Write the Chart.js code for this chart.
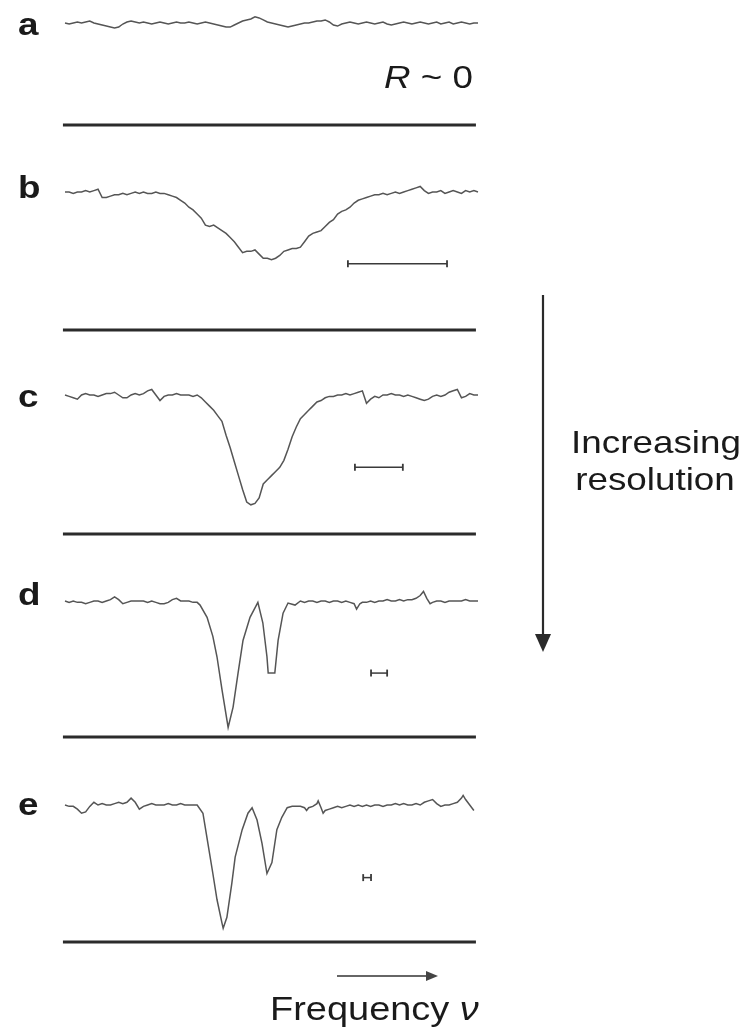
<!DOCTYPE html>
<html>
<head>
<meta charset="utf-8">
<style>
  html, body { margin: 0; padding: 0; background: #fff; }
  #wrap { position: relative; width: 747px; height: 1031px; }
</style>
</head>
<body>
<div id="wrap"><canvas id="myChart" width="747" height="1031"></canvas></div>
<script src="https://cdn.jsdelivr.net/npm/chart.js@4.4.0/dist/chart.umd.min.js"></script>
<script>
// Datos (frecuencia 0-100, señal 1 = nivel sin absorción, 0 = línea de cero)
const panelNames = ["a", "b", "c", "d", "e"];
const freqGrid = Array.from({ length: 101 }, (_, i) => i); // muestreo uniforme de a, b, c

const sigA = [
  1.00, 0.99, 1.00, 1.01, 1.00, 1.01, 1.02, 1.00, 0.99, 0.98,
  0.97, 0.96, 0.95, 0.96, 0.99, 1.01, 1.02, 1.01, 1.00, 1.01,
  1.00, 0.99, 1.00, 1.01, 1.00, 0.99, 1.00, 1.01, 1.00, 1.00,
  1.01, 1.00, 0.99, 1.00, 1.01, 1.00, 0.99, 0.98, 0.97, 0.96,
  0.96, 0.98, 1.00, 1.02, 1.03, 1.04, 1.06, 1.05, 1.03, 1.01,
  1.00, 0.99, 0.98, 0.97, 0.96, 0.97, 0.98, 0.99, 1.00, 1.00,
  1.01, 1.02, 1.02, 1.03, 1.01, 0.98, 0.97, 0.99, 1.00, 1.01,
  1.00, 0.99, 1.00, 1.01, 1.00, 0.99, 1.00, 1.01, 0.99, 0.98,
  0.99, 1.00, 1.01, 1.00, 0.99, 1.00, 1.01, 1.00, 0.99, 1.00,
  1.01, 0.99, 1.00, 1.01, 0.99, 1.00, 1.01, 1.00, 0.99, 1.00,
  1.00
];

const sigB = [
  1.00, 1.00, 0.99, 1.00, 1.00, 1.01, 1.00, 1.01, 1.02, 0.96,
  0.96, 0.97, 0.98, 0.98, 0.99, 0.98, 0.99, 1.00, 0.99, 1.00,
  0.99, 0.99, 1.00, 0.99, 0.99, 0.98, 0.97, 0.96, 0.94, 0.92,
  0.89, 0.87, 0.84, 0.81, 0.76, 0.75, 0.76, 0.74, 0.72, 0.70,
  0.67, 0.64, 0.60, 0.56, 0.57, 0.57, 0.58, 0.55, 0.52, 0.52,
  0.51, 0.52, 0.54, 0.57, 0.58, 0.59, 0.59, 0.60, 0.64, 0.68,
  0.70, 0.71, 0.72, 0.75, 0.78, 0.80, 0.84, 0.86, 0.87, 0.89,
  0.92, 0.94, 0.95, 0.96, 0.97, 0.98, 0.98, 0.99, 0.98, 0.99,
  1.00, 0.99, 1.00, 1.01, 1.02, 1.03, 1.04, 1.01, 0.99, 1.00,
  1.00, 1.01, 0.99, 1.00, 1.01, 1.00, 0.99, 1.01, 1.00, 1.01,
  1.00
];

const sigC = [
  1.00, 0.99, 0.98, 0.97, 1.00, 1.01, 1.00, 1.00, 0.99, 1.00,
  1.01, 1.01, 1.02, 1.00, 0.98, 0.98, 1.00, 1.01, 1.00, 1.01,
  1.03, 1.04, 1.00, 0.96, 0.99, 1.00, 1.00, 1.01, 1.00, 1.00,
  1.00, 0.99, 1.00, 0.98, 0.95, 0.92, 0.89, 0.85, 0.81, 0.71,
  0.62, 0.52, 0.42, 0.32, 0.23, 0.21, 0.22, 0.26, 0.36, 0.39,
  0.42, 0.45, 0.48, 0.53, 0.61, 0.70, 0.77, 0.83, 0.86, 0.89,
  0.92, 0.95, 0.96, 0.98, 0.99, 0.99, 1.00, 1.00, 1.01, 1.00,
  1.01, 1.02, 1.03, 0.94, 0.97, 0.99, 0.98, 1.00, 1.00, 1.01,
  1.00, 1.00, 0.99, 1.00, 0.99, 0.98, 0.97, 0.96, 0.97, 0.99,
  1.00, 0.99, 1.00, 1.02, 1.03, 1.04, 0.98, 0.99, 1.01, 1.00,
  1.00
];

const freqD = [
  0, 1, 2, 3, 4, 5, 6, 7, 8, 9, 10, 11, 12, 13, 14, 15, 16, 17, 18, 19, 20,
  21, 22, 23, 24, 25, 26, 27, 28, 29, 30, 31, 32,
  32.7, 34.4, 35.8, 36.8, 38, 39.5, 40.7, 41.9, 43.1, 44.8, 46.7, 47.9, 48.9, 49.2, 50.8, 51.6, 52.8, 54, 55.7,
  57, 58, 59, 60, 61, 62, 63, 64, 65, 66, 67, 68, 69, 70, 70.6, 71.4, 72, 73, 74, 75, 76, 77, 78, 79,
  80, 81, 82, 83, 84, 85, 86, 86.8, 87.6, 88.4, 89, 90, 91, 92, 93, 94, 95, 96, 97, 98, 99, 100
];
const sigD = [
  1.00, 0.99, 1.00, 0.99, 0.99, 0.98, 0.99, 1.00, 1.00, 0.99, 1.00, 1.01, 1.03, 1.01, 0.98, 0.99, 1.00, 1.00, 1.00, 1.00, 0.99,
  1.00, 0.99, 0.98, 0.98, 0.99, 1.01, 1.02, 1.00, 1.00, 1.00, 0.99, 0.99,
  0.97, 0.88, 0.74, 0.59, 0.35, 0.07, 0.22, 0.47, 0.71, 0.88, 0.99, 0.84, 0.59, 0.47, 0.47, 0.71, 0.91, 0.985, 0.97,
  1.00, 0.99, 1.00, 1.00, 0.99, 1.00, 1.00, 0.99, 1.00, 1.00, 0.99, 1.00, 0.99, 0.98, 0.94, 0.98, 0.99, 0.99, 1.00, 0.99, 1.00, 1.00, 1.01, 1.00,
  1.00, 1.01, 1.00, 1.01, 1.01, 1.02, 1.04, 1.07, 1.02, 0.98, 0.99, 1.00, 1.00, 0.99, 1.00, 1.00, 1.00, 1.00, 1.01, 1.00, 1.00, 1.00
];

const freqE = [
  0, 1, 2, 3, 4, 5, 6, 7, 8, 9, 10, 11, 12, 13, 14, 15, 16, 17, 18, 19, 20,
  21, 22, 23, 24, 25, 26, 27, 28, 29, 30, 31,
  32, 33.4, 34.6, 35.8, 36.8, 38, 38.3, 39.2, 40.4, 41.2, 42.9, 44.3, 45.3, 46.5, 47.7, 48.9, 50.1, 51.3, 52.5, 53.8, 55,
  56, 57, 58, 58.5, 59, 60, 61, 61.3, 62, 62.5, 63, 64, 65, 66, 67, 68, 69, 70, 71, 72, 73, 74, 75, 76, 77, 78, 79,
  80, 81, 82, 83, 84, 85, 86, 87, 88, 89, 90, 91, 92, 93, 94, 95, 96, 96.4, 97, 98, 99
];
const sigE = [
  1.00, 0.99, 0.99, 0.97, 0.94, 0.95, 0.99, 1.02, 1.00, 1.01, 1.00, 1.00, 1.01, 1.02, 1.01, 1.02, 1.05, 1.02, 0.97, 0.99, 1.00,
  1.01, 1.00, 1.00, 1.00, 1.01, 1.00, 1.00, 1.01, 1.00, 1.00, 1.00,
  1.00, 0.94, 0.72, 0.50, 0.31, 0.14, 0.10, 0.18, 0.43, 0.62, 0.82, 0.94, 0.98, 0.89, 0.72, 0.50, 0.58, 0.82, 0.91, 0.98, 0.99,
  0.99, 0.99, 0.98, 0.96, 0.98, 0.99, 1.01, 1.03, 0.98, 0.94, 0.96, 0.97, 0.98, 0.99, 0.98, 0.99, 1.00, 0.99, 1.00, 0.99, 1.00, 0.99, 1.00, 1.00, 0.99, 1.00, 1.00,
  1.01, 1.00, 1.01, 1.00, 1.00, 1.01, 1.00, 1.02, 1.03, 1.04, 1.01, 0.99, 1.00, 1.00, 1.01, 1.02, 1.05, 1.07, 1.04, 1.00, 0.96
];

// Barras de resolución (paneles b-e)
const resPanels = ["b", "c", "d", "e"];
const resStart = [68.5, 70.2, 74.1, 72.2];
const resEnd = [92.5, 81.8, 78.0, 74.1];
const resLevel = [0.48, 0.48, 0.47, 0.47];

// Posición de cada panel en la página (pixel del nivel 1 y de la línea de cero)
const panelTop = [23, 192, 395, 601, 805];
const panelZero = [125, 330, 534, 737, 942];
const labelBase = [35, 198, 407, 605, 815];
const H = 1031;

const freqs = [freqGrid, freqGrid, freqGrid, freqD, freqE];
const sigs = [sigA, sigB, sigC, sigD, sigE];

const zip = (xs, ys) => ys.map((y, i) => ({ x: xs[i], y: y }));

const fontFam = '"Liberation Sans", Arial, Helvetica, sans-serif';
const stretch = 1.15;

// Texto con estiramiento horizontal, partes con distinta fuente
const drawText = (ctx, parts, x, y, align) => {
  ctx.save();
  let total = 0;
  parts.forEach(([t, f]) => { ctx.font = f; total += ctx.measureText(t).width; });
  let pos = align === "center" ? -total / 2 : 0;
  ctx.translate(x, y);
  ctx.scale(stretch, 1);
  ctx.textAlign = "left";
  ctx.textBaseline = "alphabetic";
  ctx.fillStyle = "#1a1a1a";
  parts.forEach(([t, f]) => {
    ctx.font = f;
    ctx.fillText(t, pos, 0);
    pos += ctx.measureText(t).width;
  });
  ctx.restore();
};

const annotations = {
  id: "annotations",
  afterDraw: (chart) => {
    const ctx = chart.ctx;
    // letras de los paneles
    panelNames.forEach((p, i) => {
      drawText(ctx, [[p, "bold 32px " + fontFam]], 18, labelBase[i], "left");
    });
    drawText(ctx, [["R", "italic 32px " + fontFam], [" ~ 0", "32px " + fontFam]], 384, 88, "left");

    // flecha vertical "Increasing resolution"
    ctx.save();
    ctx.strokeStyle = "#2a2a2a";
    ctx.fillStyle = "#2a2a2a";
    ctx.lineWidth = 2.2;
    ctx.beginPath();
    ctx.moveTo(543, 295);
    ctx.lineTo(543, 638);
    ctx.stroke();
    ctx.beginPath();
    ctx.moveTo(535, 634);
    ctx.lineTo(551, 634);
    ctx.lineTo(543, 652);
    ctx.closePath();
    ctx.fill();

    // flecha de frecuencia
    ctx.strokeStyle = "#666";
    ctx.fillStyle = "#444";
    ctx.lineWidth = 1.8;
    ctx.beginPath();
    ctx.moveTo(337, 976);
    ctx.lineTo(429, 976);
    ctx.stroke();
    ctx.beginPath();
    ctx.moveTo(426, 971);
    ctx.lineTo(438, 976);
    ctx.lineTo(426, 981);
    ctx.closePath();
    ctx.fill();
    ctx.restore();

    drawText(ctx, [["Increasing", "32px " + fontFam]], 656, 453, "center");
    drawText(ctx, [["resolution", "32px " + fontFam]], 655, 490, "center");
    drawText(ctx, [["Frequency ", "33px " + fontFam], ["\u03BD", "italic 33px " + fontFam]], 270, 1020, "left");
  }
};

const crearGrafico = () => {
  const ctx = document.getElementById("myChart").getContext("2d");

  const datasets = [];
  const scales = {
    x: { type: "linear", min: 0, max: 100, display: false }
  };

  panelNames.forEach((p, i) => {
    const axis = "y" + p;
    // cada eje ocupa toda la altura; min/max colocan el 0 y el 1 del panel
    const span = panelZero[i] - panelTop[i];
    const min = -(H - panelZero[i]) / span;
    scales[axis] = { type: "linear", min: min, max: min + H / span, display: false };

    datasets.push({
      label: "trace " + p,
      data: zip(freqs[i], sigs[i]),
      yAxisID: axis,
      borderColor: "#555",
      borderWidth: 1.5,
      pointRadius: 0,
      tension: 0,
      clip: false
    });
    datasets.push({
      label: "zero " + p,
      data: [{ x: -0.5, y: 0 }, { x: 99.5, y: 0 }],
      yAxisID: axis,
      borderColor: "#2b2b2b",
      borderWidth: 3.2,
      pointRadius: 0,
      clip: false
    });

    const r = resPanels.indexOf(p);
    if (r >= 0) {
      datasets.push({
        label: "resolution " + p,
        data: [{ x: resStart[r], y: resLevel[r] }, { x: resEnd[r], y: resLevel[r] }],
        yAxisID: axis,
        borderColor: "#3a3a3a",
        borderWidth: 1.5,
        pointStyle: "line",
        rotation: 90,
        pointRadius: 3.5,
        pointBorderWidth: 1.8,
        pointBorderColor: "#3a3a3a",
        clip: false
      });
    }
  });

  new Chart(ctx, {
    type: "line",
    data: { datasets: datasets },
    options: {
      responsive: false,
      animation: false,
      layout: { autoPadding: false, padding: { left: 65, right: 269, top: 0, bottom: 0 } },
      plugins: { legend: { display: false }, tooltip: { enabled: false } },
      scales: scales
    },
    plugins: [annotations]
  });
};

crearGrafico();
</script>
</body>
</html>
